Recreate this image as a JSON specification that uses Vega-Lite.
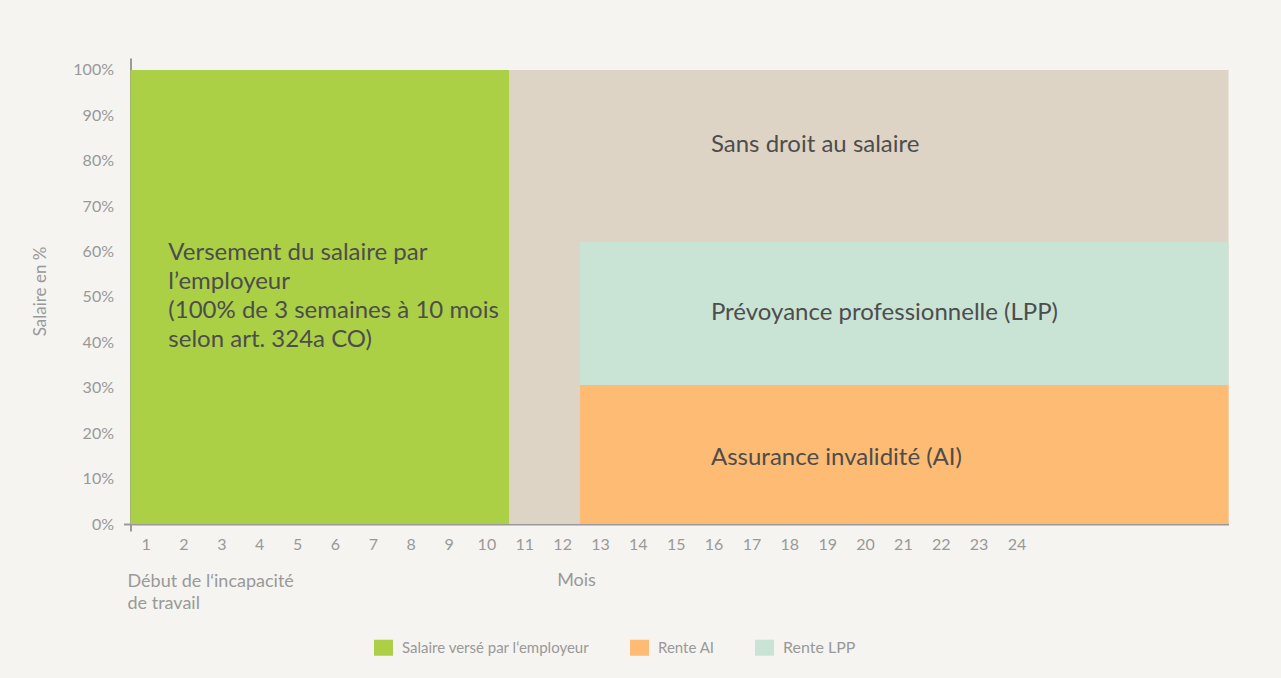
{
  "$schema": "https://vega.github.io/schema/vega-lite/v6.json",
  "width": 1098,
  "height": 466,
  "autosize": {"type": "none"},
  "padding": {"left": 130.5, "top": 58, "right": 52.5, "bottom": 154},
  "background": "#f5f4f0",
  "config": {"view": {"stroke": null}, "font": "Lato"},
  "datasets": {
    "blocks": [
      {"category": "Sans droit au salaire", "start": 10, "end": 29, "low": 0, "high": 1},
      {"category": "Salaire versé par l‘employeur", "start": 0, "end": 10, "low": 0, "high": 1},
      {"category": "Rente AI", "start": 11.87, "end": 29, "low": 0, "high": 0.306},
      {"category": "Rente LPP", "start": 11.87, "end": 29, "low": 0.306, "high": 0.621}
    ],
    "notes": [
      {"text": ["Versement du salaire par", "l’employeur", "(100% de 3 semaines à 10 mois", "selon art. 324a CO)"], "x": 1.0, "y": 0.597},
      {"text": "Sans droit au salaire", "x": 15.33, "y": 0.835},
      {"text": "Prévoyance professionnelle (LPP)", "x": 15.33, "y": 0.465},
      {"text": "Assurance invalidité (AI)", "x": 15.33, "y": 0.145}
    ]
  },
  "layer": [
    {
      "data": {"name": "blocks"},
      "mark": {"type": "rect"},
      "encoding": {
        "x": {
          "field": "start", "type": "quantitative",
          "scale": {"domain": [0, 29], "nice": false, "zero": false},
          "axis": {
            "values": [0, 0.4, 1.4, 2.4, 3.4, 4.4, 5.4, 6.4, 7.4, 8.4, 9.4, 10.4, 11.4, 12.4, 13.4, 14.4, 15.4, 16.4, 17.4, 18.4, 19.4, 20.4, 21.4, 22.4, 23.4],
            "labelExpr": "datum.value == 0 ? '' : '' + round(datum.value + 0.6)",
            "grid": false,
            "domainColor": "#9a9a9a", "domainWidth": 2,
            "tickColor": "#9a9a9a", "tickWidth": 2, "tickSize": 7,
            "tickOpacity": {"condition": {"test": "datum.value == 0", "value": 1}, "value": 0},
            "labelFontSize": 16, "labelColor": "#999999", "labelPadding": 5,
            "labelFlush": false, "labelOverlap": false,
            "title": "Mois", "titleFontSize": 18, "titleFontWeight": "normal", "titleColor": "#999999",
            "titleX": 445.5, "titleY": 56, "titleAlign": "center", "titleBaseline": "middle"
          }
        },
        "x2": {"field": "end"},
        "y": {
          "field": "low", "type": "quantitative",
          "scale": {"domain": [0, 1.0264], "nice": false},
          "axis": {
            "values": [0, 0.1, 0.2, 0.3, 0.4, 0.5, 0.6, 0.7, 0.8, 0.9, 1],
            "format": ".0%",
            "grid": false,
            "domainColor": "#9a9a9a", "domainWidth": 2,
            "tickColor": "#9a9a9a", "tickWidth": 2, "tickSize": 7,
            "tickOpacity": {"condition": {"test": "datum.value == 0", "value": 1}, "value": 0},
            "labelFontSize": 16, "labelColor": "#999999", "labelPadding": 10,
            "labelFlush": false, "labelOverlap": false,
            "title": "Salaire en %", "titleFontSize": 17, "titleFontWeight": "normal", "titleColor": "#999999",
            "titleX": -90.5, "titleBaseline": "middle"
          }
        },
        "y2": {"field": "high"},
        "color": {
          "field": "category", "type": "nominal",
          "scale": {
            "domain": ["Sans droit au salaire", "Salaire versé par l‘employeur", "Rente AI", "Rente LPP"],
            "range": ["#ddd4c5", "#abd046", "#fdbb74", "#c9e4d4"]
          },
          "legend": {
            "values": ["Salaire versé par l‘employeur", "Rente AI", "Rente LPP"],
            "title": null,
            "orient": "none",
            "direction": "horizontal",
            "legendX": 243.5,
            "legendY": 580,
            "symbolType": "M-1,-0.842H1V0.842H-1Z",
            "symbolSize": 361,
            "symbolStrokeWidth": 0,
            "symbolOpacity": 1,
            "labelFontSize": 15,
            "labelColor": "#999999",
            "labelOffset": 9,
            "columnPadding": 40,
            "labelLimit": 400,
            "encode": {"labels": {"update": {"fontSize": {"signal": "datum.label == 'Rente LPP' ? 16 : 15"}}}}
          }
        }
      }
    },
    {
      "data": {"name": "notes"},
      "mark": {"type": "text", "align": "left", "baseline": "middle", "fontSize": 24, "lineHeight": 29, "color": "#4d4d4d"},
      "encoding": {
        "x": {"field": "x", "type": "quantitative"},
        "y": {"field": "y", "type": "quantitative"},
        "text": {"field": "text"}
      }
    },
    {
      "data": {"values": [{"t": ["Début de l‘incapacité", "de travail"]}]},
      "mark": {"type": "text", "align": "left", "baseline": "middle", "fontSize": 18, "lineHeight": 22, "color": "#999999", "dy": 58, "dx": -3},
      "encoding": {
        "x": {"datum": 0},
        "y": {"datum": 0},
        "text": {"field": "t"}
      }
    }
  ]
}
